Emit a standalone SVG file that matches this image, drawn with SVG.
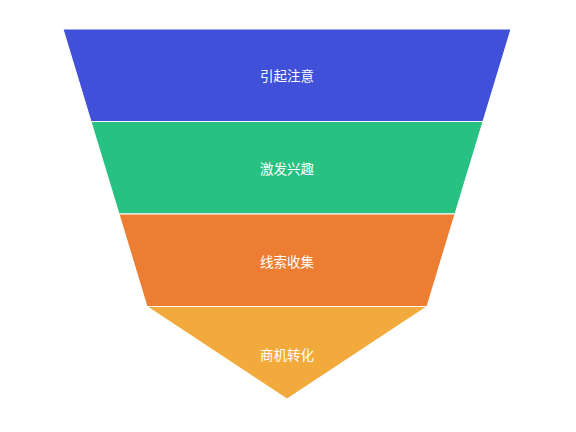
<svg xmlns="http://www.w3.org/2000/svg" width="576" height="432" viewBox="0 0 576 432">
<style>
.layer{stroke:#ffffff;stroke-width:1}
.lbl{font-family:"Noto Sans CJK SC","Noto Sans",sans-serif;font-size:13.5px;fill:#ffffff;text-anchor:middle;dominant-baseline:central}
</style>
<rect width="576" height="432" fill="#ffffff"/>
<g id="layer1"><polygon class="layer" points="63,29 511,29 483,121.5 91,121.5" fill="#4050d8"/><text class="lbl" x="287" y="75">引起注意</text></g>
<g id="layer2"><polygon class="layer" points="91,121.5 483,121.5 455,214 119,214" fill="#27c281"/><text class="lbl" x="287" y="167.5">激发兴趣</text></g>
<g id="layer3"><polygon class="layer" points="119,214 455,214 427,306.5 147,306.5" fill="#ed7d32"/><text class="lbl" x="287" y="260.5">线索收集</text></g>
<g id="layer4"><polygon class="layer" points="147,306.5 427,306.5 287,399" fill="#f2aa3c"/><text class="lbl" x="287" y="354">商机转化</text></g>
<g id="connectors"></g>
</svg>
